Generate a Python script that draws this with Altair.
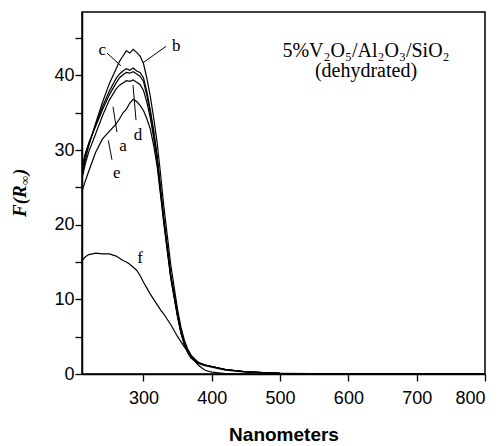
import altair as alt
import pandas as pd

# wavelength grid (nm)
wavelength = [210, 215, 220, 230, 240, 250, 260, 265, 270, 275, 280, 285, 290, 295,
              300, 305, 310, 315, 320, 325, 330, 340, 350, 355, 360, 365, 370, 380,
              390, 400, 420, 450, 500, 550, 650, 800]

curve_a = [27.8, 29.6, 31.0, 33.2, 35.4, 37.4, 39.0, 39.7, 40.1, 40.4, 40.3, 40.5, 40.2, 39.9,
           39.2, 37.3, 35.0, 32.2, 28.9, 24.7, 20.5, 13.1, 7.8, 5.6, 4.0, 2.9, 2.2, 1.5,
           1.2, 1.0, 0.6, 0.3, 0.1, 0.05, 0.0, 0.0]
curve_b = [26.5, 28.8, 30.6, 33.6, 36.4, 38.9, 40.9, 41.9, 42.6, 43.3, 43.0, 43.5, 43.1, 42.6,
           41.6, 39.6, 37.2, 34.3, 31.0, 26.8, 22.3, 14.6, 8.6, 6.2, 4.5, 3.3, 2.5, 1.6,
           1.2, 1.0, 0.6, 0.3, 0.1, 0.05, 0.0, 0.0]
curve_c = [27.2, 29.2, 30.8, 33.4, 35.8, 37.9, 39.6, 40.2, 40.6, 40.9, 40.7, 41.0, 40.6, 40.4,
           39.7, 37.8, 35.4, 32.6, 29.3, 25.0, 20.8, 13.4, 8.0, 5.7, 4.1, 3.0, 2.3, 1.5,
           1.2, 1.0, 0.6, 0.3, 0.1, 0.05, 0.0, 0.0]
curve_d = [26.2, 28.2, 29.8, 32.2, 34.6, 36.7, 38.2, 38.7, 39.0, 39.3, 39.2, 39.4, 39.1, 38.8,
           38.0, 36.4, 34.3, 31.6, 28.5, 24.3, 20.2, 12.9, 7.7, 5.5, 3.9, 2.9, 2.2, 1.5,
           1.2, 1.0, 0.6, 0.3, 0.1, 0.05, 0.0, 0.0]
curve_e = [24.5, 25.9, 27.2, 29.7, 31.5, 32.5, 33.5, 34.2, 35.0, 35.5, 36.3, 36.8, 36.5, 36.0,
           35.3, 34.2, 32.8, 30.6, 27.8, 24.0, 20.0, 12.8, 7.6, 5.4, 3.9, 2.8, 2.1, 1.4,
           1.1, 0.9, 0.5, 0.25, 0.1, 0.05, 0.0, 0.0]
curve_f = [15.2, 15.7, 16.0, 16.2, 16.1, 16.1, 15.8, 15.5, 15.2, 15.0, 14.7, 14.3, 13.9, 13.2,
           12.3, 11.5, 10.7, 10.0, 9.3, 8.6, 8.0, 6.6, 5.0, 4.3, 3.6, 3.0, 2.3, 1.2,
           0.5, 0.25, 0.05, 0.0, 0.0, 0.0, 0.0, 0.0]

series_names = ["a", "b", "c", "d", "e", "f"]
series_values = [curve_a, curve_b, curve_c, curve_d, curve_e, curve_f]

# curve labels (text, wavelength, value) and leader lines
label_text = ["c", "b", "a", "d", "e", "f"]
label_nm = [239.5, 348.0, 270.0, 292.0, 261.0, 295.0]
label_val = [43.4, 43.9, 30.6, 32.0, 26.9, 15.6]

leader_nm1 = [246.6, 333.0, 255.4, 284.7, 248.5]
leader_val1 = [43.0, 43.9, 35.8, 38.7, 31.3]
leader_nm2 = [267.0, 299.3, 261.2, 289.1, 253.9]
leader_val2 = [41.3, 41.7, 32.4, 34.0, 28.7]

x_ticks = [300, 400, 500, 600, 700, 800]
y_ticks = [0, 5, 10, 15, 20, 25, 30, 35, 40, 45]

rows = []
for name, vals in zip(series_names, series_values):
    for w, v in zip(wavelength, vals):
        rows.append({"nm": w, "F": v, "sample": name})
df = pd.DataFrame(rows)

labels_df = pd.DataFrame({"t": label_text, "nm": label_nm, "F": label_val})
leaders_df = pd.DataFrame({"nm": leader_nm1, "F": leader_val1, "nm2": leader_nm2, "F2": leader_val2})

x_scale = alt.Scale(domain=[210, 800], nice=False, zero=False)
y_scale = alt.Scale(domain=[0, 48.5], nice=False)

lines = alt.Chart(df).mark_line(color="black", strokeWidth=1.2, clip=True).encode(
    x=alt.X("nm:Q", scale=x_scale,
            axis=alt.Axis(values=x_ticks, title="Nanometers", grid=False,
                          labelFont="Liberation Sans", labelFontSize=18, labelColor="black",
                          labelPadding=8, tickSize=7, tickColor="black", tickWidth=1.3,
                          domainColor="black", domainWidth=1.5,
                          titleFont="Liberation Sans", titleFontSize=19, titleFontWeight="bold",
                          titleColor="black", titlePadding=18)),
    y=alt.Y("F:Q", scale=y_scale,
            axis=alt.Axis(values=y_ticks, title=None, grid=False,
                          labelExpr="datum.value % 10 == 0 ? datum.label : ''",
                          labelFont="Liberation Sans", labelFontSize=18, labelColor="black",
                          labelPadding=1, tickSize=7, tickColor="black", tickWidth=1.3,
                          domainColor="black", domainWidth=1.5)),
    detail="sample:N",
)

labels = alt.Chart(labels_df).mark_text(font="Liberation Serif", fontSize=17, color="black",
                                        align="center", baseline="middle").encode(
    x=alt.X("nm:Q", scale=x_scale), y=alt.Y("F:Q", scale=y_scale), text="t:N")

leaders = alt.Chart(leaders_df).mark_rule(color="black", strokeWidth=1).encode(
    x=alt.X("nm:Q", scale=x_scale), y=alt.Y("F:Q", scale=y_scale),
    x2="nm2:Q", y2="F2:Q")

title1 = alt.Chart(pd.DataFrame({"t": ["5%V₂O₅/Al₂O₃/SiO₂"]})).mark_text(
    font="Liberation Serif", fontSize=20, color="black", align="center", baseline="alphabetic"
).encode(x=alt.value(284), y=alt.value(45), text="t:N")
title2 = alt.Chart(pd.DataFrame({"t": ["(dehydrated)"]})).mark_text(
    font="Liberation Serif", fontSize=20, color="black", align="center", baseline="alphabetic"
).encode(x=alt.value(284), y=alt.value(65), text="t:N")

ytitle_a = alt.Chart(pd.DataFrame({"t": ["F(R"]})).mark_text(
    font="Liberation Serif", fontSize=19, fontStyle="italic", fontWeight="bold", color="black",
    align="left", baseline="middle", angle=270
).encode(x=alt.value(-62), y=alt.value(205), text="t:N")
ytitle_b = alt.Chart(pd.DataFrame({"t": ["∞"]})).mark_text(
    font="Liberation Serif", fontSize=13, fontStyle="italic", fontWeight="bold", color="black",
    align="left", baseline="middle", angle=270
).encode(x=alt.value(-57), y=alt.value(173), text="t:N")
ytitle_c = alt.Chart(pd.DataFrame({"t": [")"]})).mark_text(
    font="Liberation Serif", fontSize=19, fontStyle="italic", fontWeight="bold", color="black",
    align="left", baseline="middle", angle=270
).encode(x=alt.value(-62), y=alt.value(163), text="t:N")

chart = alt.layer(lines, leaders, labels, title1, title2, ytitle_a, ytitle_b, ytitle_c).properties(
    width=403, height=362,
    autosize=alt.AutoSizeParams(type="none"),
    padding={"left": 82, "top": 12, "right": 18, "bottom": 72},
    background="white",
).configure_view(stroke="black", strokeWidth=1.5)

chart.save("out.html", embed_options={"renderer": "svg", "actions": False})
